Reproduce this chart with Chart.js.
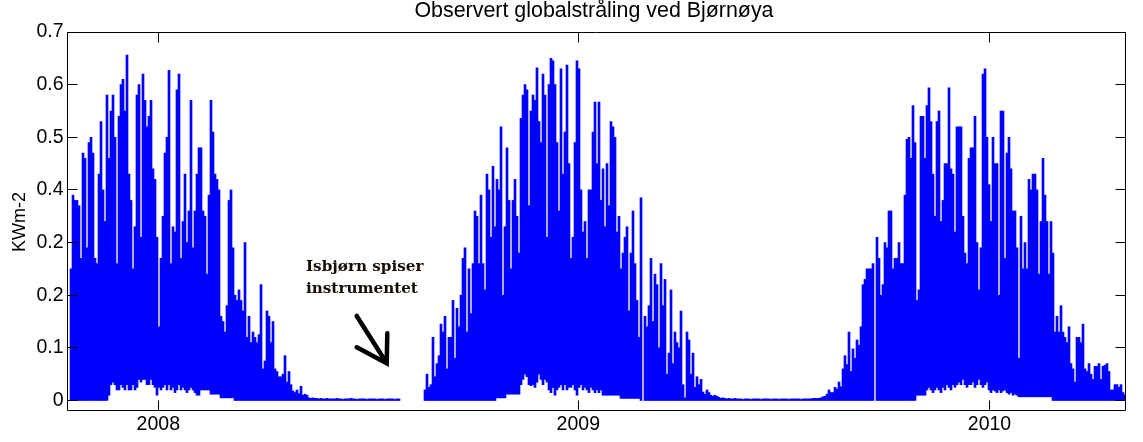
<!DOCTYPE html>
<html><head><meta charset="utf-8">
<script src="https://cdn.jsdelivr.net/npm/chart.js@4.4.0/dist/chart.umd.min.js"></script>
<style>html,body{margin:0;padding:0;background:#fff;}#wrap{width:1143px;height:442px;}</style>
</head><body><div id="wrap"><canvas id="c" width="1143" height="442"></canvas></div>
<script>
// Observed global radiation, one entry per ~2-day bin (daily maximum and minimum envelope), kW m-2
const maxValues = [
null,0.25,0.39,0.38,0.38,0.37,0.27,0.47,0.46,0.29,
0.49,0.50,0.47,0.27,0.26,0.43,0.53,0.40,0.34,0.58,
0.46,0.55,0.58,0.50,0.26,0.54,0.60,0.61,0.55,0.656,
0.43,0.38,0.25,0.33,0.58,0.60,0.31,0.62,0.57,0.52,
0.54,0.57,0.44,0.42,0.31,0.14,0.27,0.35,0.47,0.50,
0.627,0.26,0.33,0.32,0.59,0.62,0.27,0.34,0.43,0.30,
0.36,0.57,0.29,0.36,0.43,0.48,
0.48,0.36,0.35,0.24,0.39,0.57,0.51,0.43,0.42,0.40,
0.16,0.15,0.13,0.18,0.38,0.40,0.29,0.20,0.19,0.21,
0.19,0.17,0.30,0.12,0.16,0.11,0.13,0.12,0.11,0.125,
0.22,0.06,0.075,0.17,0.16,0.11,0.15,0.06,0.055,0.045,
0.045,0.05,0.085,0.035,0.055,0.03,0.018,0.015,0.02,0.013,
0.027,0.01,0.012,0.01,0.005,0.004,0.005,0.004,0.004,0.003,
0.004,0.003,0.003,0.004,0.003,0.003,
0.003,0.003,0.004,0.003,0.003,0.002,0.003,0.003,0.003,0.004,
0.003,0.003,0.002,0.003,0.003,0.003,0.003,0.002,0.003,0.003,
0.003,0.003,0.002,0.003,0.003,0.003,0.002,0.003,0.003,0.003,
0.003,0.002,0.003,0.003,
null,null,null,null,null,null,null,null,null,null,null,null,
0.02,0.05,0.025,0.03,0.12,0.045,0.07,0.085,0.145,0.13,
0.16,0.06,0.12,0.12,0.19,0.08,0.175,0.14,0.2,0.27,
0.29,0.13,0.25,0.165,0.26,0.36,0.35,0.26,0.39,0.26,
0.21,0.43,0.40,0.31,0.445,0.33,0.42,0.40,0.52,0.20,
0.33,0.48,0.38,0.25,0.38,0.42,0.35,0.28,0.536,0.58,
0.60,0.59,0.37,0.55,0.58,0.57,0.632,0.53,0.49,0.62,
0.58,0.31,0.60,0.65,0.645,0.60,0.49,0.36,0.63,0.43,
0.51,0.637,0.45,
0.27,0.31,0.49,0.645,0.63,0.40,0.32,0.34,0.27,0.40,
0.40,0.51,0.567,0.45,0.567,0.38,0.44,0.33,0.45,0.37,
0.53,0.52,0.50,0.32,0.35,0.25,0.28,0.31,0.33,0.17,
0.28,0.36,0.26,0.19,0.12,0.385,null,0.16,0.14,0.18,
0.27,0.15,0.24,0.22,0.10,0.26,0.18,0.23,0.05,0.09,
0.21,0.07,0.13,0.11,0.10,0.17,0.03,0.005,0.13,0.115,
0.05,0.09,0.025,0.045,0.03,0.04,0.016,0.012,0.02,0.015,
0.01,0.008,0.01,0.008,
0.006,0.004,0.005,0.004,0.003,0.004,0.003,0.003,0.004,0.003,
0.003,0.003,0.002,0.003,0.003,0.003,0.002,0.003,0.003,0.003,
0.003,0.002,0.003,0.003,0.003,0.003,0.002,0.003,0.003,0.003,
0.002,0.003,0.003,0.003,0.003,0.002,0.003,0.003,0.003,0.003,
0.003,0.002,0.003,0.003,0.003,0.003,0.003,0.004,0.004,
0.004,0.004,0.005,0.007,0.008,0.012,0.02,0.015,0.015,0.025,
0.022,0.035,0.026,0.06,0.085,0.068,0.13,0.055,0.098,0.08,
0.115,0.105,0.14,0.22,0.23,0.25,0.25,0.25,0.26,null,
0.31,0.27,0.20,0.22,0.30,0.29,0.36,0.36,0.25,0.27,
0.27,0.30,0.26,0.26,0.39,0.496,0.50,0.46,0.56,0.49,
0.19,0.21,0.54,0.54,0.46,0.56,0.594,0.53,0.43,0.35,
0.53,0.55,0.34,0.38,0.45,0.45,0.594,0.44,0.43,0.32,
0.52,0.52,0.52,0.35,0.28,0.26,0.46,
0.48,0.48,0.54,0.30,0.21,0.29,0.62,0.63,0.50,0.41,
0.34,0.50,0.45,0.45,0.20,0.55,0.55,0.27,0.47,0.50,
0.44,0.36,0.36,0.29,0.08,0.35,0.25,0.30,0.25,0.42,
0.40,0.43,0.43,0.40,0.24,0.34,0.46,0.39,0.34,0.24,
0.34,0.28,0.13,0.16,0.13,0.18,0.13,0.12,0.11,0.14,
0.07,0.06,0.035,0.12,0.12,0.11,0.145,0.06,0.055,0.07,
0.05,0.04,0.065,0.065,0.07,0.04,0.065,0.067,0.07,0.055,
0.02,0.02,0.03,0.03,0.025,0.03,0.015,0.01
];
const minValues = [
0,0,0,0,0,0,0,0,0,0,
0,0,0,0,0,0,0,0,0,0,
0.01,0.03,0.035,0.03,0.02,0.02,0.03,0.025,0.02,0.03,
0.02,0.02,0.03,0.02,0.025,0.04,0.035,0.04,0.04,0.03,
0.03,0.04,0.03,0.025,0.01,0.025,0.02,0.025,0.03,0.02,
0.03,0.02,0.025,0.015,0.02,0.03,0.02,0.025,0.02,0.015,
0.02,0.025,0.02,0.015,0.01,0.01,
0.02,0.02,0.02,0.02,0.02,
0.012,0.012,0.012,0.012,0.012,
0.005,0.005,0.005,0.005,0.005,0.005,0.005,
0,0,0,0,0,0,0,0,0,0,
0,0,0,0,0,0,0,0,0,0,
0,0,0,0,0,0,0,0,0,0,
0,0,0,0,0,0,0,0,0,0,
0,0,0,0,0,0,0,0,0,0,
0,0,0,0,0,0,0,0,0,0,
0,0,0,0,0,0,0,0,0,0,
0,0,0,0,0,0,0,0,0,0,
0,0,0,
null,null,null,null,null,null,null,null,null,null,null,null,
0,0,0,0,0,0,0,0,0,0,
0,0,0,0,0,0,0,0,0,0,
0,0,0,0,0,0,0,0,0,0,
0,0,0,0,0,0,
0.005,0.005,0.005,0.005,0.005,
0.012,0.012,0.012,0.012,0.012,0.012,0.012,
0.03,0.04,0.05,0.045,0.03,
0.028,0.03,0.025,
0.035,0.05,0.04,0.03,0.04,0.035,
0.02,0.015,0.025,0.01,0.02,
0.025,0.03,0.02,0.03,0.02,0.025,
0.025,0.03,0.02,0.01,0.025,0.03,0.02,0.025,
0.02,0.015,0.025,0.02,0.015,0.02,0.015,0.02,
0.01,0.01,0.01,0.01,0.01,0.01,0.01,0.01,0.01,
0.004,0.004,0.004,0.004,0.004,0.004,0.004,0.004,0.004,0.004,
0,0,0,0,0,0,0,0,0,0,
0,0,0,0,0,0,0,0,0,0,
0,0,0,0,0,0,0,0,0,0,
0,0,0,0,0,0,0,0,0,0,
0,0,0,0,0,0,0,0,0,0,
0,0,0,0,0,0,0,0,0,0,
0,0,0,0,0,0,0,0,0,0,
0,0,0,0,0,0,0,0,0,0,
0,0,0,0,0,0,0,0,0,0,
0,0,0,0,0,0,0,0,0,0,
0,0,0,0,0,0,0,0,0,0,
0,0,0,0,0,0,0,0,0,0,
0,0,0,0,0,0,0,0,0,0,
0,0,0,0,0,0,0,0,
0.01,0.01,0.01,0.01,0.01,
0.02,0.025,0.02,0.015,0.02,0.025,0.02,0.015,
0.025,0.02,0.03,0.025,0.02,0.03,0.025,
0.03,0.035,0.03,0.04,0.03,0.025,0.03,
0.03,0.035,0.025,0.03,0.04,0.03,0.025,0.03,0.035,
0.02,0.015,0.02,0.018,0.015,0.02,0.015,0.018,0.02,0.015,0.012,0.015,0.01,0.012,0.01,
0.007,0.007,0.007,0.007,0.007,0.007,0.007,0.007,0.007,0.007,
0.007,0.007,0.007,0.007,0.007,0.007,0.007,
0,0,0,0,0,0,0,0,0,0,
0,0,0,0,0,0,0,0,0,0,
0,0,0,0,0,0,0,0,0,0,
0,0,0,0,0,0,0
];
const xTickPositions = [44.65, 254.65, 460.25];
const xTickLabels = ['2008', '2009', '2010'];
const yTickValues = [0, 0.1, 0.2, 0.3, 0.4, 0.5, 0.6, 0.7];
const yTickLabels = ['0', '0.1', '0.2', '0.2', '0.4', '0.5', '0.6', '0.7'];
const titleText = 'Observert globalstråling ved Bjørnøya';
const yAxisTitle = 'KWm-2';
const noteLines = ['Isbjørn spiser', 'instrumentet'];

// annotation placement (data units) and styles
const noteStyle = { x: 118.5, y1: 0.2465, y2: 0.2047, font: 'bold 15.2px "DejaVu Serif", serif', color: '#140e06' };
const arrowStyle = { from: [143.85, 0.1605], tip: [158.85, 0.0706], wingA: [143.85, 0.101], wingB: [159.15, 0.1276], width: 4.5 };
const SANS = '"Liberation Sans", Arial, Helvetica, sans-serif';

const points = [];
const n = Math.min(maxValues.length, minValues.length);
for (let i = 0; i < n; i++) {
  if (maxValues[i] === null || minValues[i] === null) continue;
  points.push({ x: i, y: [minValues[i], maxValues[i]] });
}

const framePlugin = {
  id: 'matlabFrame',
  afterDraw(chart) {
    const { ctx, chartArea: a, scales: { x, y } } = chart;
    ctx.save();
    ctx.strokeStyle = '#000';
    ctx.lineWidth = 1;
    const L = a.left - 0.5, R = a.right - 0.5, T = a.top + 0.5, B = a.bottom - 0.5;
    ctx.beginPath();
    ctx.rect(L, T, R - L, B - T);
    const tl = 10;
    y.ticks.forEach(t => {
      const py = Math.floor(y.getPixelForValue(t.value)) + 0.5;
      ctx.moveTo(L, py); ctx.lineTo(L + tl, py);
      ctx.moveTo(R, py); ctx.lineTo(R - tl, py);
    });
    x.ticks.forEach(t => {
      const px = Math.floor(x.getPixelForValue(t.value)) + 0.5;
      ctx.moveTo(px, B); ctx.lineTo(px, B - tl);
      ctx.moveTo(px, T); ctx.lineTo(px, T + tl);
    });
    ctx.stroke();

    // title
    ctx.fillStyle = '#000';
    ctx.font = '21.4px ' + SANS;
    ctx.textAlign = 'center';
    ctx.textBaseline = 'alphabetic';
    ctx.fillText(titleText, 594, 17);

    // y axis title
    ctx.save();
    ctx.translate(20, 222);
    ctx.rotate(-Math.PI / 2);
    ctx.font = '18px ' + SANS;
    ctx.textAlign = 'center';
    ctx.textBaseline = 'middle';
    ctx.fillText(yAxisTitle, 0, 0);
    ctx.restore();

    // annotation
    ctx.font = noteStyle.font;
    ctx.fillStyle = noteStyle.color;
    ctx.textAlign = 'left';
    ctx.textBaseline = 'alphabetic';
    const nx = x.getPixelForValue(noteStyle.x);
    ctx.fillText(noteLines[0], nx, y.getPixelForValue(noteStyle.y1));
    ctx.fillText(noteLines[1], nx, y.getPixelForValue(noteStyle.y2));

    const P = p => [x.getPixelForValue(p[0]), y.getPixelForValue(p[1])];
    const f = P(arrowStyle.from), tp = P(arrowStyle.tip), wa = P(arrowStyle.wingA), wb = P(arrowStyle.wingB);
    ctx.strokeStyle = '#000';
    ctx.lineWidth = arrowStyle.width;
    ctx.lineCap = 'round';
    ctx.lineJoin = 'miter';
    ctx.beginPath();
    ctx.moveTo(f[0], f[1]); ctx.lineTo(tp[0], tp[1]);
    ctx.moveTo(wa[0], wa[1]); ctx.lineTo(tp[0], tp[1]); ctx.lineTo(wb[0], wb[1]);
    ctx.stroke();
    ctx.restore();
  }
};

new Chart(document.getElementById('c').getContext('2d'), {
  type: 'bar',
  data: {
    datasets: [{
      data: points,
      backgroundColor: '#0000ff',
      borderWidth: 0,
      barPercentage: 1,
      categoryPercentage: 1
    }]
  },
  options: {
    responsive: false,
    animation: false,
    devicePixelRatio: 1,
    layout: { padding: { left: 0, right: 17, top: 32, bottom: 0 } },
    plugins: { legend: { display: false }, title: { display: false }, tooltip: { enabled: false } },
    scales: {
      x: {
        type: 'linear', min: -0.5, max: 528.5, offset: false,
        grid: { display: false, drawTicks: false }, border: { display: false },
        afterBuildTicks: s => { s.ticks = xTickPositions.map(v => ({ value: v })); },
        afterFit: s => { s.height = 31; },
        ticks: {
          autoSkip: false, maxRotation: 0, minRotation: 0, padding: 1.5, color: '#000',
          font: { family: SANS, size: 19.5 },
          callback: (v, i) => xTickLabels[i]
        }
      },
      y: {
        type: 'linear', min: -0.02, max: 0.7,
        grid: { display: false, drawTicks: false }, border: { display: false },
        afterBuildTicks: s => { s.ticks = yTickValues.map(v => ({ value: v })); },
        afterFit: s => { s.width = 68; },
        ticks: {
          padding: 4.5, color: '#000',
          font: { family: SANS, size: 19.5 },
          callback: (v, i) => yTickLabels[i]
        }
      }
    }
  },
  plugins: [framePlugin]
});
</script>
</body></html>
